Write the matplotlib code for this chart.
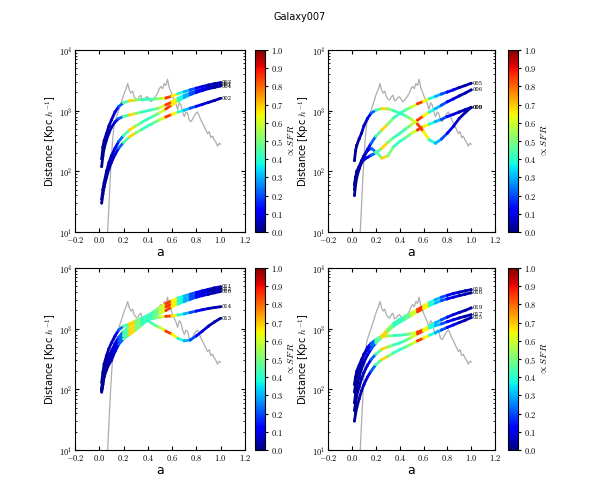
import matplotlib
matplotlib.use('Agg')
import matplotlib.pyplot as plt
import numpy as np
from matplotlib.collections import LineCollection
from matplotlib.ticker import FuncFormatter

plt.rcParams['mathtext.fontset'] = 'cm'
plt.rcParams['font.family'] = 'DejaVu Sans'

# scale factor of the snapshots used for the tracks
a_grid = [0.02, 0.03, 0.04, 0.06, 0.08, 0.10, 0.13, 0.16, 0.20, 0.25, 0.30, 0.35, 0.40,
          0.45, 0.50, 0.55, 0.60, 0.65, 0.70, 0.75, 0.80, 0.85, 0.90, 0.95, 1.00]
# normalised SFR (colour of the tracks)
sfr_color = [0.02, 0.02, 0.03, 0.04, 0.05, 0.06, 0.10, 0.22, 0.45, 0.68, 0.50, 0.42, 0.42,
             0.48, 0.60, 0.85, 0.65, 0.38, 0.30, 0.20, 0.12, 0.08, 0.05, 0.04, 0.03]

# grey SFR history
sfr_a = [0.069, 0.082, 0.096, 0.110, 0.124, 0.151, 0.179, 0.206, 0.222, 0.234, 0.248, 0.261,
         0.275, 0.288, 0.302, 0.316, 0.330, 0.343, 0.357, 0.371, 0.385, 0.398, 0.412, 0.426,
         0.440, 0.453, 0.467, 0.481, 0.495, 0.508, 0.522, 0.536, 0.550, 0.563, 0.577, 0.591,
         0.605, 0.618, 0.632, 0.646, 0.660, 0.673, 0.687, 0.701, 0.715, 0.728, 0.742, 0.755,
         0.769, 0.783, 0.797, 0.810, 0.824, 0.838, 0.852, 0.865, 0.879, 0.893, 0.907, 0.920,
         0.934, 0.948, 0.962, 0.975, 0.989, 1.000]
sfr_grey = [10, 34, 120, 330, 620, 900, 1320, 1950, 2300, 2800, 2200, 1950, 2100, 1700, 1550,
            1500, 1700, 1800, 1450, 1500, 1650, 1700, 1550, 1400, 1500, 1600, 1750, 1950, 2300,
            2500, 2300, 2800, 2600, 3300, 2400, 2050, 1700, 1500, 1300, 1050, 1350, 1250, 950,
            800, 950, 900, 700, 660, 720, 820, 900, 950, 820, 700, 620, 550, 480, 420, 450,
            360, 380, 330, 300, 260, 290, 280]

# distances [kpc/h] of the satellites at a_grid
tl_003 = [160, 250, 320, 420, 560, 700, 950, 1170, 1350, 1450, 1500, 1530, 1540,
          1550, 1580, 1620, 1740, 1900, 2050, 2200, 2350, 2500, 2650, 2780, 2900]
tl_001 = [120, 180, 240, 330, 430, 530, 650, 740, 800, 850, 900, 950, 1000,
          1050, 1120, 1250, 1400, 1600, 1780, 1950, 2100, 2250, 2400, 2550, 2680]
tl_004 = [35, 50, 65, 100, 140, 180, 240, 310, 390, 480, 560, 640, 730,
          820, 930, 1070, 1250, 1450, 1650, 1830, 2000, 2150, 2300, 2420, 2550]
tl_002 = [30, 42, 55, 80, 110, 140, 190, 240, 300, 370, 430, 490, 560,
          630, 710, 790, 870, 950, 1020, 1100, 1180, 1270, 1370, 1470, 1600]

tr_005 = [50, 75, 95, 120, 150, 180, 230, 290, 380, 480, 600, 760, 900,
          1030, 1150, 1300, 1420, 1580, 1720, 1880, 2030, 2200, 2400, 2600, 2830]
tr_006 = [60, 80, 100, 120, 140, 155, 170, 185, 200, 240, 300, 360, 420,
          500, 590, 700, 820, 950, 1080, 1230, 1400, 1560, 1750, 1950, 2200]
tr_008 = [40, 60, 80, 110, 140, 175, 220, 240, 210, 165, 180, 255, 310,
          360, 425, 480, 550, 600, 660, 720, 800, 870, 950, 1040, 1130]
tr_009 = [150, 220, 270, 345, 425, 565, 745, 910, 1020, 1080, 1070, 1000, 910,
          820, 720, 600, 450, 330, 290, 340, 425, 550, 745, 930, 1130]

bl_011 = [130, 190, 260, 360, 470, 580, 760, 950, 1100, 1200, 1350, 1480, 1650,
          1900, 2250, 2600, 2900, 3200, 3450, 3700, 3950, 4200, 4450, 4700, 4900]
bl_012 = [100, 150, 200, 280, 360, 420, 550, 700, 830, 950, 1100, 1300, 1500,
          1750, 2000, 2300, 2600, 2850, 3100, 3350, 3600, 3850, 4100, 4300, 4500]
bl_010 = [90, 120, 160, 210, 260, 300, 420, 550, 680, 800, 950, 1150, 1400,
          1600, 1800, 2000, 2300, 2550, 2800, 3050, 3300, 3500, 3700, 3900, 4100]
bl_014 = [95, 130, 170, 220, 280, 350, 450, 620, 760, 910, 1100, 1300, 1420,
          1480, 1550, 1600, 1620, 1680, 1750, 1850, 1950, 2050, 2150, 2230, 2300]
bl_013 = [100, 140, 190, 260, 340, 420, 560, 720, 900, 1100, 1250, 1400, 1350,
          1170, 1040, 910, 810, 690, 630, 650, 760, 910, 1100, 1290, 1480]

br_018 = [90, 120, 165, 220, 275, 380, 490, 575, 660, 760, 980, 1230, 1420,
          1620, 1820, 2080, 2350, 2700, 3000, 3300, 3550, 3800, 4000, 4200, 4400]
br_016 = [60, 85, 110, 160, 220, 280, 370, 460, 580, 720, 900, 1100, 1280,
          1450, 1650, 1900, 2150, 2400, 2650, 2900, 3100, 3300, 3500, 3700, 3900]
br_019 = [120, 160, 200, 250, 310, 370, 450, 530, 620, 740, 760, 770, 780,
          800, 830, 880, 960, 1100, 1250, 1400, 1550, 1700, 1850, 2000, 2200]
br_017 = [45, 60, 80, 110, 150, 190, 250, 310, 380, 460, 500, 540, 580,
          640, 720, 820, 920, 1030, 1120, 1200, 1300, 1400, 1500, 1600, 1700]
br_015 = [30, 40, 50, 70, 95, 120, 160, 200, 255, 310, 350, 400, 450,
          500, 560, 630, 700, 780, 860, 950, 1050, 1150, 1260, 1380, 1520]

panels = [
    (['003', '001', '004', '002'], [tl_003, tl_001, tl_004, tl_002]),
    (['005', '006', '008', '009'], [tr_005, tr_006, tr_008, tr_009]),
    (['011', '012', '010', '014', '013'], [bl_011, bl_012, bl_010, bl_014, bl_013]),
    (['018', '016', '019', '017', '015'], [br_018, br_016, br_019, br_017, br_015]),
]

# [ax rect, colorbar rect]
rects = [
    ([0.125, 0.536, 0.283, 0.364], [0.425, 0.536, 0.0167, 0.364]),
    ([0.547, 0.536, 0.278, 0.364], [0.847, 0.536, 0.0167, 0.364]),
    ([0.125, 0.100, 0.283, 0.364], [0.425, 0.100, 0.0167, 0.364]),
    ([0.547, 0.100, 0.278, 0.364], [0.847, 0.100, 0.0167, 0.364]),
]

fig = plt.figure(figsize=(6, 5), dpi=100)
fig.suptitle('Galaxy007', fontsize=7, y=0.975)

norm = plt.Normalize(0, 1)
for (labels, tracks), (r_ax, r_cb) in zip(panels, rects):
    ax = fig.add_axes(r_ax)
    cax = fig.add_axes(r_cb)
    ax.plot(sfr_a, sfr_grey, color='0.68', lw=0.9)
    for lab, dist in zip(labels, tracks):
        pts = np.column_stack([a_grid, dist])
        segs = np.stack([pts[:-1], pts[1:]], axis=1)
        lc = LineCollection(segs, cmap='jet', norm=norm, linewidths=2.0, capstyle='round')
        lc.set_array(np.array(sfr_color[:-1]))
        ax.add_collection(lc)
        sc = ax.scatter(a_grid, dist, c=sfr_color, cmap='jet', norm=norm, s=4,
                        edgecolors='none', zorder=3)
        ax.text(a_grid[-1] + 0.01, dist[-1], lab, fontsize=3.8, family='serif', va='center')
    ax.set_yscale('log')
    ax.set_xlim(-0.2, 1.2)
    ax.set_ylim(10, 1e4)
    ax.set_xticks(np.arange(-0.2, 1.21, 0.2))
    ax.xaxis.set_major_formatter(FuncFormatter(lambda v, p: r'$%.1f$' % v))
    ax.yaxis.set_major_formatter(FuncFormatter(lambda v, p: r'$10^{%d}$' % round(np.log10(v))))
    ax.tick_params(which='both', direction='in', top=True, right=True, labelsize=6, pad=2)
    ax.tick_params(which='major', length=3)
    ax.tick_params(which='minor', length=1.5)
    ax.set_xlabel('a', fontsize=9, labelpad=1)
    ax.set_ylabel(r'Distance [Kpc $h^{-1}$]', fontsize=7, labelpad=0)

    cb = fig.colorbar(sc, cax=cax, ticks=np.arange(0, 1.01, 0.1))
    cb.ax.yaxis.set_major_formatter(FuncFormatter(lambda v, p: r'$%.1f$' % v))
    cb.ax.tick_params(labelsize=6, length=2, pad=2)
    cb.set_label(r'$\propto SFR$', fontsize=7, labelpad=2)

plt.savefig('out.png', dpi=100)
